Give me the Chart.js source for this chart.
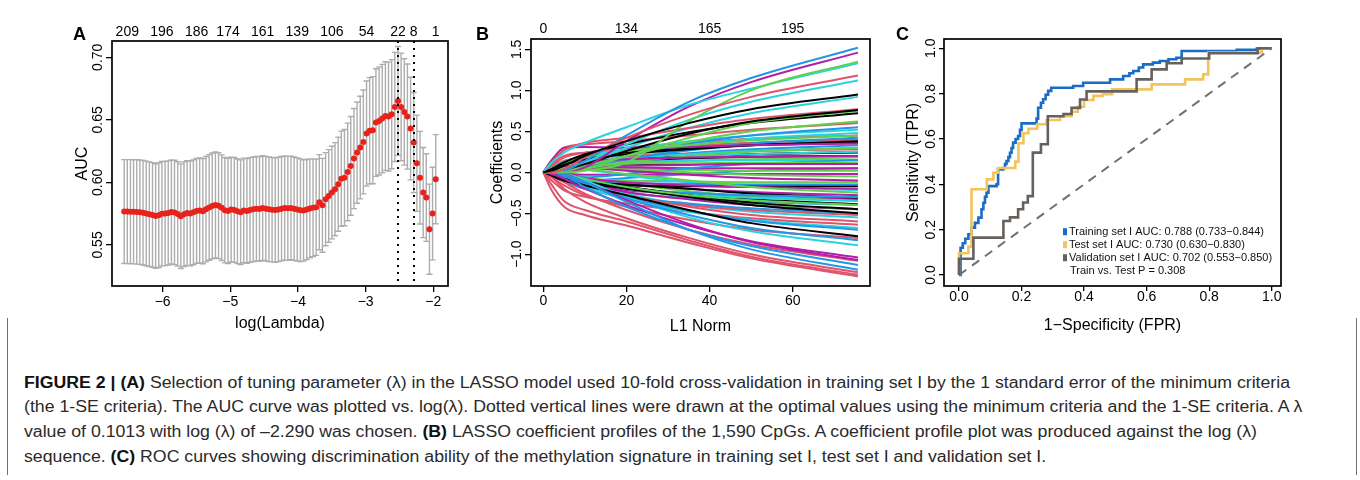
<!DOCTYPE html>
<html>
<head>
<meta charset="utf-8">
<title>Figure 2</title>
<script src="https://cdn.jsdelivr.net/npm/chart.js@4.4.1/dist/chart.umd.min.js"></script>
<style>
  html, body { margin:0; padding:0; background:#fff; }
  body { width:1360px; height:480px; position:relative; overflow:hidden; font-family:"Liberation Sans", Arial, sans-serif; }
  canvas { position:absolute; top:0; }
  #cA { left:0; } #cB { left:460px; } #cC { left:890px; }
  .plab { position:absolute; top:25px; font-weight:bold; font-size:18px; line-height:18px; color:#000; }
  .vline { position:absolute; top:318px; height:157px; width:1px; background:#707070; }
  #caption { position:absolute; left:24px; top:370.6px; font-size:16px; line-height:24.7px; color:#2a2a2a; white-space:nowrap; transform-origin:0 0; font-family:"Liberation Sans", Arial, sans-serif; }
  #caption b { font-weight:bold; color:#111; }
  #caption div { height:24.7px; }
</style>
</head>
<body>
<canvas id="cA" width="460" height="340"></canvas>
<canvas id="cB" width="430" height="340"></canvas>
<canvas id="cC" width="470" height="340"></canvas>
<div class="plab" style="left:73px">A</div>
<div class="plab" style="left:476px">B</div>
<div class="plab" style="left:896px">C</div>
<div class="vline" style="left:7px"></div>
<div class="vline" style="left:1356px"></div>
<div id="caption">
  <div><span id="capL1"><b>FIGURE 2 | (A)</b> Selection of tuning parameter (λ) in the LASSO model used 10-fold cross-validation in training set I by the 1 standard error of the minimum criteria</span></div>
  <div><span>(the 1-SE criteria). The AUC curve was plotted vs. log(λ). Dotted vertical lines were drawn at the optimal values using the minimum criteria and the 1-SE criteria. A λ</span></div>
  <div><span>value of 0.1013 with log (λ) of –2.290 was chosen. <b>(B)</b> LASSO coefficient profiles of the 1,590 CpGs. A coefficient profile plot was produced against the log (λ)</span></div>
  <div><span>sequence. <b>(C)</b> ROC curves showing discrimination ability of the methylation signature in training set I, test set I and validation set I.</span></div>
</div>
<script>
// ---------------- Panel A data ----------------
const logLambda = [
  -6.569,-6.523,-6.476,-6.430,-6.383,-6.337,-6.290,-6.243,-6.197,-6.150,
  -6.104,-6.057,-6.011,-5.964,-5.918,-5.871,-5.825,-5.778,-5.732,-5.685,
  -5.639,-5.592,-5.546,-5.499,-5.453,-5.406,-5.360,-5.313,-5.267,-5.220,
  -5.174,-5.127,-5.081,-5.034,-4.988,-4.941,-4.895,-4.848,-4.802,-4.755,
  -4.709,-4.662,-4.615,-4.569,-4.522,-4.476,-4.429,-4.383,-4.336,-4.290,
  -4.243,-4.197,-4.150,-4.104,-4.057,-4.011,-3.964,-3.918,-3.871,-3.825,
  -3.778,-3.732,-3.685,-3.639,-3.592,-3.546,-3.499,-3.453,-3.406,-3.360,
  -3.313,-3.266,-3.220,-3.173,-3.127,-3.080,-3.034,-2.987,-2.941,-2.894,
  -2.848,-2.801,-2.755,-2.708,-2.662,-2.615,-2.569,-2.522,-2.476,-2.429,
  -2.383,-2.336,-2.290,-2.243,-2.197,-2.150,-2.104,-2.057,-2.011,-1.964
];
const aucMean = [
  0.5767,0.5767,0.5766,0.5765,0.5764,0.5762,0.5758,0.5752,0.5746,0.5740,
  0.5731,0.5738,0.5750,0.5752,0.5756,0.5764,0.5760,0.5748,0.5730,0.5746,
  0.5755,0.5752,0.5761,0.5772,0.5776,0.5770,0.5786,0.5800,0.5812,0.5820,
  0.5814,0.5798,0.5778,0.5772,0.5783,0.5780,0.5769,0.5762,0.5776,0.5772,
  0.5780,0.5785,0.5790,0.5787,0.5795,0.5790,0.5785,0.5782,0.5779,0.5784,
  0.5790,0.5795,0.5793,0.5796,0.5790,0.5784,0.5778,0.5776,0.5783,0.5792,
  0.5797,0.5802,0.5842,0.5817,0.5866,0.5892,0.5919,0.5946,0.5986,0.6030,
  0.6038,0.6084,0.6132,0.6190,0.6238,0.6278,0.6323,0.6390,0.6412,0.6417,
  0.6478,0.6491,0.6510,0.6530,0.6526,0.6545,0.6603,0.6651,0.6603,0.6563,
  0.6526,0.6430,0.6318,0.6153,0.6038,0.5919,0.5879,0.5626,0.5751,0.6026
];
const aucSE = [
  0.0415,0.0415,0.0416,0.0416,0.0417,0.0417,0.0418,0.0418,0.0418,0.0418,
  0.0418,0.0418,0.0417,0.0417,0.0416,0.0416,0.0417,0.0417,0.0418,0.0418,
  0.0418,0.0418,0.0419,0.0419,0.0420,0.0420,0.0421,0.0422,0.0423,0.0424,
  0.0423,0.0422,0.0421,0.0420,0.0419,0.0419,0.0418,0.0418,0.0418,0.0418,
  0.0418,0.0418,0.0418,0.0418,0.0418,0.0418,0.0418,0.0417,0.0417,0.0417,
  0.0417,0.0416,0.0415,0.0414,0.0413,0.0412,0.0410,0.0405,0.0400,0.0395,
  0.0390,0.0385,0.0380,0.0375,0.0372,0.0370,0.0370,0.0372,0.0376,0.0380,
  0.0385,0.0390,0.0395,0.0400,0.0405,0.0410,0.0415,0.0420,0.0425,0.0428,
  0.0430,0.0432,0.0433,0.0434,0.0435,0.0436,0.0436,0.0435,0.0430,0.0425,
  0.0420,0.0410,0.0400,0.0385,0.0370,0.0360,0.0350,0.0360,0.0370,0.0356
];
const lambdaLines = [-2.522, -2.290];           // lambda.min, lambda.1se
const xTicksA = [-6, -5, -4, -3, -2];
const yTicksA = [0.55, 0.60, 0.65, 0.70];
const topTicksA = [-6.523, -6.011, -5.499, -5.034, -4.522, -4.011, -3.499, -2.987, -2.522, -2.290, -1.964];
const topLabelsA = ['209','196','186','174','161','139','106','54','22','8','1'];

// ---------------- Panel B data ----------------
const l1Norm = [0, 2, 5, 10, 20, 35, 50, 75.7];
const coefPaths = [
  // black, red, green, blue, cyan, magenta (repeating palette order)
  [0,0.02,0.08,0.20,0.38,0.60,0.77,0.95], [0,0,0.04,0.18,0.42,0.70,0.92,1.18], [0,0,0,0.02,0.12,0.62,1.00,1.35],
  [0,0,0.02,0.14,0.45,0.86,1.15,1.52], [0,0.12,0.24,0.36,0.55,0.82,1.02,1.33], [0,0,0,0.06,0.38,0.80,1.10,1.46],

  [0,0,0.03,0.10,0.26,0.47,0.62,0.76], [0,0.12,0.27,0.36,0.42,0.54,0.65,0.77], [0,0,0,0.04,0.20,0.42,0.60,0.75],
  [0,0,-0.02,-0.12,-0.36,-0.70,-0.94,-1.19], [0,0,0.03,0.12,0.34,0.64,0.86,1.12], [0,0,-0.02,-0.12,-0.34,-0.63,-0.85,-1.07],

  [0,0.04,0.12,0.22,0.34,0.49,0.60,0.72], [0,-0.22,-0.42,-0.52,-0.65,-0.86,-1.05,-1.27], [0,0,0.02,0.08,0.20,0.37,0.50,0.62],
  [0,0,-0.04,-0.18,-0.42,-0.70,-0.90,-1.13], [0,0,0.02,0.10,0.30,0.54,0.72,0.92], [0,-0.02,-0.08,-0.20,-0.40,-0.65,-0.84,-1.04],

  [0,-0.04,-0.10,-0.16,-0.28,-0.46,-0.62,-0.78], [0,-0.15,-0.35,-0.46,-0.60,-0.83,-1.03,-1.25], [0,0.05,0.12,0.18,0.26,0.33,0.39,0.45],
  [0,0,-0.04,-0.14,-0.32,-0.52,-0.68,-0.83], [0,0,-0.02,-0.10,-0.30,-0.55,-0.72,-0.89], [0,0.14,0.30,0.31,0.30,0.31,0.33,0.35],

  [0,0.03,0.10,0.16,0.22,0.28,0.33,0.38], [0,-0.06,-0.20,-0.36,-0.56,-0.80,-1.00,-1.22], [0,0,-0.02,-0.08,-0.18,-0.28,-0.34,-0.40],
  [0,0,-0.03,-0.13,-0.30,-0.47,-0.59,-0.70], [0,-0.02,-0.08,-0.18,-0.33,-0.48,-0.58,-0.68], [0,0.05,0.10,0.14,0.16,0.18,0.19,0.20],

  [0,0.05,0.12,0.18,0.24,0.29,0.33,0.36], [0,-0.03,-0.12,-0.26,-0.46,-0.70,-0.88,-1.08], [0,0,0.01,0.05,0.12,0.20,0.25,0.30],
  [0,0,0.01,0.06,0.20,0.35,0.45,0.55], [0,0.06,0.13,0.20,0.28,0.38,0.45,0.52], [0,0.04,0.08,0.06,0.02,-0.03,-0.07,-0.10],

  [0,-0.03,-0.08,-0.13,-0.20,-0.30,-0.40,-0.50], [0,-0.06,-0.16,-0.28,-0.42,-0.58,-0.70,-0.80], [0,0.02,0.05,0.04,-0.02,-0.10,-0.18,-0.25],
  [0,0,0.02,0.07,0.16,0.27,0.35,0.42], [0,0.02,0.06,0.12,0.22,0.33,0.41,0.48], [0,0.02,0.05,0.07,0.08,0.09,0.10,0.10],

  [0,-0.05,-0.10,-0.12,-0.18,-0.28,-0.37,-0.45], [0,0.15,0.30,0.34,0.38,0.45,0.52,0.60], [0,0.03,0.08,0.10,0.11,0.11,0.12,0.12],
  [0,0,-0.02,-0.08,-0.20,-0.25,-0.28,-0.30], [0,0,0.02,0.07,0.14,0.19,0.22,0.25], [0,-0.01,-0.04,-0.08,-0.12,-0.16,-0.18,-0.20],

  [0,0.02,0.06,0.10,0.15,0.19,0.22,0.24], [0,-0.10,-0.22,-0.30,-0.38,-0.48,-0.56,-0.64], [0,0.02,0.04,0.05,0.03,0.00,-0.03,-0.05],
  [0,-0.02,-0.05,-0.06,-0.02,0.05,0.10,0.15], [0,0,-0.03,-0.10,-0.20,-0.27,-0.31,-0.35], [0,0.03,0.06,0.07,0.06,0.05,0.05,0.05],

  [0,-0.03,-0.08,-0.12,-0.15,-0.20,-0.26,-0.31], [0,-0.02,-0.08,-0.16,-0.28,-0.42,-0.52,-0.60], [0,0.01,0.03,0.04,0.04,0.03,0.02,0.02],
  [0,-0.01,-0.05,-0.10,-0.13,-0.14,-0.15,-0.15], [0,0.01,0.04,0.09,0.16,0.22,0.26,0.30], [0,0,-0.02,-0.07,-0.14,-0.20,-0.24,-0.28],

  [0,-0.04,-0.10,-0.14,-0.16,-0.17,-0.17,-0.17], [0,0.10,0.20,0.24,0.27,0.32,0.36,0.40], [0,-0.01,-0.04,-0.10,-0.20,-0.30,-0.38,-0.45],
  [0,0.01,0.04,0.08,0.15,0.23,0.28,0.33], [0,0.02,0.04,0.03,-0.04,-0.12,-0.17,-0.22], [0,-0.02,-0.07,-0.14,-0.24,-0.33,-0.40,-0.45],

  [0,0.04,0.10,0.13,0.15,0.17,0.19,0.20], [0,0.06,0.14,0.18,0.20,0.23,0.26,0.28], [0,-0.02,-0.05,-0.08,-0.10,-0.11,-0.12,-0.12],
  [0,-0.03,-0.10,-0.20,-0.30,-0.38,-0.44,-0.50], [0,0.03,0.08,0.12,0.13,0.14,0.15,0.15], [0,0.01,0.04,0.09,0.15,0.19,0.22,0.25],

  [0,-0.02,-0.06,-0.10,-0.18,-0.27,-0.33,-0.39], [0,-0.04,-0.12,-0.20,-0.30,-0.40,-0.46,-0.52], [0,0,0.02,0.06,0.10,0.14,0.16,0.18],
  [0,-0.03,-0.08,-0.10,-0.07,-0.02,0.02,0.05], [0,-0.01,-0.04,-0.12,-0.26,-0.40,-0.48,-0.55], [0,-0.01,-0.02,-0.03,-0.03,-0.02,-0.02,-0.02],

  [0,0.02,0.05,0.08,0.09,0.10,0.10,0.10], [0,0.08,0.18,0.24,0.30,0.36,0.41,0.45], [0,0,-0.02,-0.06,-0.14,-0.23,-0.29,-0.35],
  [0,-0.02,-0.08,-0.16,-0.25,-0.32,-0.36,-0.40], [0,0,0.02,0.08,0.18,0.27,0.33,0.38], [0,-0.03,-0.09,-0.15,-0.22,-0.27,-0.30,-0.33]
];
const xTicksB = [0, 20, 40, 60];
const yTicksB = [-1.0, -0.5, 0.0, 0.5, 1.0, 1.5];
const topTicksB = [0, 20, 40, 60];
const topLabelsB = ['0', '134', '165', '195'];

// ---------------- Panel C data ----------------
const trainFPR = [0,0.005,0.005,0.012,0.012,0.02,0.02,0.03,0.03,0.04,0.04,0.051,0.051,0.062,0.062,0.072,0.072,0.078,0.078,0.083,0.083,0.088,0.088,0.094,0.094,0.12,0.12,0.125,0.125,0.141,0.141,0.147,0.147,0.152,0.152,0.158,0.158,0.163,0.163,0.168,0.168,0.173,0.173,0.181,0.181,0.189,0.189,0.195,0.195,0.2,0.2,0.248,0.248,0.253,0.253,0.262,0.262,0.269,0.269,0.277,0.277,0.285,0.285,0.295,0.295,0.365,0.365,0.397,0.397,0.483,0.483,0.525,0.525,0.545,0.545,0.557,0.557,0.575,0.575,0.589,0.589,0.62,0.62,0.642,0.642,0.67,0.67,0.695,0.695,0.712,0.712,0.888,0.888,0.952,0.952,0.97,0.97,1.0];
const trainTPR = [0,0,0.12,0.12,0.14,0.14,0.16,0.16,0.18,0.18,0.209,0.209,0.23,0.23,0.253,0.253,0.29,0.29,0.319,0.319,0.345,0.345,0.363,0.363,0.392,0.392,0.40,0.40,0.466,0.466,0.472,0.472,0.49,0.49,0.503,0.503,0.52,0.52,0.539,0.539,0.56,0.56,0.584,0.584,0.60,0.60,0.613,0.613,0.64,0.64,0.669,0.669,0.69,0.69,0.738,0.738,0.76,0.76,0.775,0.775,0.795,0.795,0.812,0.812,0.826,0.826,0.834,0.834,0.848,0.848,0.863,0.863,0.878,0.878,0.89,0.89,0.90,0.90,0.915,0.915,0.929,0.929,0.937,0.937,0.944,0.944,0.952,0.952,0.958,0.958,0.988,0.988,0.993,0.993,0.998,0.998,1.0,1.0];
const testFPR = [0,0,0.03,0.03,0.04,0.04,0.089,0.089,0.11,0.11,0.125,0.125,0.18,0.18,0.19,0.19,0.206,0.206,0.222,0.222,0.25,0.25,0.28,0.28,0.323,0.323,0.36,0.36,0.38,0.38,0.40,0.40,0.43,0.43,0.46,0.46,0.49,0.49,0.616,0.616,0.723,0.723,0.781,0.781,0.797,0.797,0.968,0.968,1.0];
const testTPR = [0,0.096,0.096,0.125,0.125,0.378,0.378,0.422,0.422,0.451,0.451,0.472,0.472,0.50,0.50,0.581,0.581,0.625,0.625,0.645,0.645,0.665,0.665,0.684,0.684,0.70,0.70,0.72,0.72,0.742,0.742,0.772,0.772,0.79,0.79,0.797,0.797,0.819,0.819,0.841,0.841,0.863,0.863,0.885,0.885,0.981,0.981,1.0,1.0];
const validFPR = [0,0,0.046,0.046,0.142,0.142,0.163,0.163,0.189,0.189,0.205,0.205,0.22,0.22,0.236,0.236,0.262,0.262,0.284,0.284,0.334,0.334,0.36,0.36,0.387,0.387,0.408,0.408,0.568,0.568,0.616,0.616,0.664,0.664,0.712,0.712,0.80,0.80,0.955,0.955,1.0];
const validTPR = [0,0.072,0.072,0.165,0.165,0.238,0.238,0.254,0.254,0.29,0.29,0.32,0.32,0.348,0.348,0.54,0.54,0.577,0.577,0.70,0.70,0.71,0.71,0.737,0.737,0.774,0.774,0.81,0.81,0.863,0.863,0.907,0.907,0.934,0.934,0.955,0.955,0.978,0.978,1.0,1.0];
const rocLabels = ['Training set I AUC: 0.788 (0.733\u22120.844)', 'Test set I AUC: 0.730 (0.630\u22120.830)', 'Validation set I AUC: 0.702 (0.553\u22120.850)'];
const rocNote = 'Train vs. Test P = 0.308';
const xTicksC = [0, 0.2, 0.4, 0.6, 0.8, 1.0];
const yTicksC = [0, 0.2, 0.4, 0.6, 0.8, 1.0];

// ---------------- common ----------------
const FF = '"Liberation Sans", Arial, Helvetica, sans-serif';
Chart.defaults.font.family = FF;
Chart.defaults.font.size = 14;
Chart.defaults.color = '#000';
const minus = v => (v < 0 ? '\u2212' : '') + Math.abs(v);
const fixed = d => v => (v < -1e-9 ? '\u2212' : '') + Math.abs(v).toFixed(d);
const setTicks = arr => s => { s.ticks = arr.map(v => ({ value: v })); };
const fixH = h => s => { s.height = h; s.paddingLeft = 0; s.paddingRight = 0; };
const fixW = w => s => { s.width = w; s.paddingTop = 0; s.paddingBottom = 0; };
const tickGrid = len => ({ display: true, drawOnChartArea: false, drawTicks: true, tickLength: len, color: '#000', lineWidth: 1.3 });

const boxPlugin = {
  id: 'box',
  afterDraw(chart) {
    const { ctx, chartArea: a } = chart;
    ctx.save(); ctx.strokeStyle = '#000'; ctx.lineWidth = 1.7;
    ctx.strokeRect(a.left, a.top, a.right - a.left, a.bottom - a.top);
    ctx.restore();
  }
};
const rotY = {
  id: 'rotY',
  afterDraw(chart, args, o) {
    const s = chart.scales.y, ctx = chart.ctx;
    ctx.save(); ctx.font = '14px ' + FF; ctx.fillStyle = '#000';
    ctx.textAlign = 'center'; ctx.textBaseline = 'middle';
    s.ticks.forEach(t => {
      const y = s.getPixelForValue(t.value);
      ctx.save(); ctx.translate(chart.chartArea.left - o.offset, y); ctx.rotate(-Math.PI / 2);
      ctx.fillText(t.label, 0, 0); ctx.restore();
    });
    ctx.restore();
  }
};
const errBars = {
  id: 'errBars',
  beforeDatasetsDraw(chart) {
    const x = chart.scales.x, y = chart.scales.y, ctx = chart.ctx;
    ctx.save(); ctx.strokeStyle = '#ADADAD'; ctx.lineWidth = 1.4; ctx.beginPath();
    logLambda.forEach((lx, k) => {
      const px = x.getPixelForValue(lx);
      const t = y.getPixelForValue(aucMean[k] + aucSE[k]);
      const b = y.getPixelForValue(aucMean[k] - aucSE[k]);
      ctx.moveTo(px, t); ctx.lineTo(px, b);
      ctx.moveTo(px - 3, t); ctx.lineTo(px + 3, t);
      ctx.moveTo(px - 3, b); ctx.lineTo(px + 3, b);
    });
    ctx.stroke(); ctx.restore();
  }
};
const vLines = {
  id: 'vLines',
  afterDatasetsDraw(chart) {
    const x = chart.scales.x, a = chart.chartArea, ctx = chart.ctx;
    ctx.save(); ctx.strokeStyle = '#000'; ctx.lineWidth = 2; ctx.setLineDash([2, 5]);
    lambdaLines.forEach(v => {
      const px = Math.round(x.getPixelForValue(v));
      ctx.beginPath(); ctx.moveTo(px, a.top); ctx.lineTo(px, a.bottom); ctx.stroke();
    });
    ctx.restore();
  }
};
const rocLegend = {
  id: 'rocLegend',
  afterDatasetsDraw(chart) {
    const ctx = chart.ctx, a = chart.chartArea;
    const x0 = a.left + 119, y0 = a.bottom - 54.3;
    ctx.save(); ctx.font = '11px ' + FF; ctx.textBaseline = 'middle'; ctx.textAlign = 'left';
    const items = chart.data.datasets.filter(d => d.legend).sort((p, q) => p.legend - q.legend);
    items.forEach((d, k) => {
      const y = y0 + k * 13;
      ctx.fillStyle = d.borderColor; ctx.fillRect(x0, y - 3.5, 4, 7);
      ctx.fillStyle = '#111'; ctx.fillText(d.label, x0 + 6, y);
    });
    ctx.fillStyle = '#111'; ctx.fillText(rocNote, x0 + 7, y0 + items.length * 13);
    ctx.restore();
  }
};
const base = { responsive: false, animation: false, events: [], plugins: { legend: { display: false }, tooltip: { enabled: false } } };

// ---------------- Panel A ----------------
new Chart(document.getElementById('cA'), {
  type: 'scatter',
  data: { datasets: [{ data: logLambda.map((x, k) => ({ x, y: aucMean[k] })), pointRadius: 3, pointBackgroundColor: '#E8221B', pointBorderWidth: 0 }] },
  options: Object.assign({}, base, {
    layout: { padding: { left: 0, top: 0, right: 12, bottom: 0 } },
    plugins: Object.assign({}, base.plugins, { rotY: { offset: 14 } }),
    scales: {
      x: { type: 'linear', position: 'bottom', min: -6.749, max: -1.783, afterBuildTicks: setTicks(xTicksA), afterFit: fixH(54),
           ticks: { callback: minus, padding: 1.6, maxRotation: 0, autoSkip: false }, grid: tickGrid(6), border: { display: false },
           title: { display: true, text: 'log(Lambda)', font: { size: 16 }, padding: { top: 0, bottom: 6.5 } } },
      x2: { type: 'linear', position: 'top', min: -6.749, max: -1.783, afterBuildTicks: setTicks(topTicksA), afterFit: fixH(41),
            ticks: { callback: (v, i) => topLabelsA[i], padding: 0.6, maxRotation: 0, autoSkip: false }, grid: { display: false, drawTicks: false }, border: { display: false } },
      y: { type: 'linear', min: 0.5172, max: 0.713, afterBuildTicks: setTicks(yTicksA), afterFit: fixW(112),
           ticks: { display: false, callback: fixed(2) }, grid: tickGrid(6), border: { display: false },
           title: { display: true, text: 'AUC', font: { size: 16 }, padding: { top: 73, bottom: 0 } } }
    }
  }),
  plugins: [errBars, vLines, boxPlugin, rotY]
});

// ---------------- Panel B ----------------
const palette = ['#000000', '#DF536B', '#61D04F', '#2297E6', '#2AD3E0', '#B31DA8'];
new Chart(document.getElementById('cB'), {
  type: 'line',
  data: { datasets: coefPaths.map((vals, k) => ({
    data: vals.map((v, j) => ({ x: l1Norm[j], y: v })),
    borderColor: palette[k % 6], borderWidth: 2, pointRadius: 0, fill: false, cubicInterpolationMode: 'monotone'
  })) },
  options: Object.assign({}, base, {
    layout: { padding: { left: 0, top: 0, right: 20, bottom: 0 } },
    plugins: Object.assign({}, base.plugins, { rotY: { offset: 14 } }),
    scales: {
      x: { type: 'linear', position: 'bottom', min: -2.96, max: 78.6, afterBuildTicks: setTicks(xTicksB), afterFit: fixH(54),
           ticks: { callback: minus, padding: 0.8, maxRotation: 0, autoSkip: false }, grid: tickGrid(6), border: { display: false },
           title: { display: true, text: 'L1 Norm', font: { size: 16 }, padding: { top: 0, bottom: 3.5 } } },
      x2: { type: 'linear', position: 'top', min: -2.96, max: 78.6, afterBuildTicks: setTicks(topTicksB), afterFit: fixH(39),
            ticks: { callback: (v, i) => topLabelsB[i], padding: 1.1, maxRotation: 0, autoSkip: false }, grid: { display: false, drawTicks: false }, border: { display: false } },
      y: { type: 'linear', min: -1.387, max: 1.626, afterBuildTicks: setTicks(yTicksB), afterFit: fixW(71),
           ticks: { display: false, callback: fixed(1) }, grid: tickGrid(6), border: { display: false },
           title: { display: true, text: 'Coefficients', font: { size: 16 }, padding: { top: 27.5, bottom: 0 } } }
    }
  }),
  plugins: [boxPlugin, rotY]
});

// ---------------- Panel C ----------------
const pts = (xs, ys) => xs.map((x, k) => ({ x, y: ys[k] }));
new Chart(document.getElementById('cC'), {
  type: 'line',
  data: { datasets: [
    { label: rocLabels[0], legend: 1, order: 2, data: pts(trainFPR, trainTPR), borderColor: '#1B6CC3', borderWidth: 2.6, pointRadius: 0, tension: 0 },
    { label: rocLabels[1], legend: 2, order: 1, data: pts(testFPR, testTPR), borderColor: '#F2C45C', borderWidth: 2.6, pointRadius: 0, tension: 0 },
    { label: rocLabels[2], legend: 3, order: 0, data: pts(validFPR, validTPR), borderColor: '#67615E', borderWidth: 2.6, pointRadius: 0, tension: 0 },
    { label: 'reference', order: 3, data: pts([0, 1], [0, 1]), borderColor: '#707070', borderWidth: 2, borderDash: [9, 7], pointRadius: 0, tension: 0 }
  ] },
  options: Object.assign({}, base, {
    layout: { padding: { left: 0, top: 39, right: 79, bottom: 0 } },
    plugins: Object.assign({}, base.plugins, { rotY: { offset: 12.5 } }),
    scales: {
      x: { type: 'linear', position: 'bottom', min: -0.048, max: 1.0297, afterBuildTicks: setTicks(xTicksC), afterFit: fixH(54),
           ticks: { callback: fixed(1), padding: -2.4, maxRotation: 0, autoSkip: false }, grid: tickGrid(5), border: { display: false },
           title: { display: true, text: '1\u2212Specificity (FPR)', font: { size: 16 }, padding: { top: 0, bottom: 4.5 } } },
      y: { type: 'linear', min: -0.0485, max: 1.041, afterBuildTicks: setTicks(yTicksC), afterFit: fixW(54),
           ticks: { display: false, callback: fixed(1) }, grid: tickGrid(5), border: { display: false },
           title: { display: true, text: 'Sensitivity (TPR)', font: { size: 16 }, padding: { top: 13.7, bottom: 0 } } }
    }
  }),
  plugins: [boxPlugin, rotY, rocLegend]
});

// ---------------- caption fit ----------------
(function () {
  const cap = document.getElementById('caption');
  const w = document.getElementById('capL1').getBoundingClientRect().width;
  if (w > 0) cap.style.transform = 'scaleX(' + (1266 / w) + ')';
})();
</script>
</body>
</html>
